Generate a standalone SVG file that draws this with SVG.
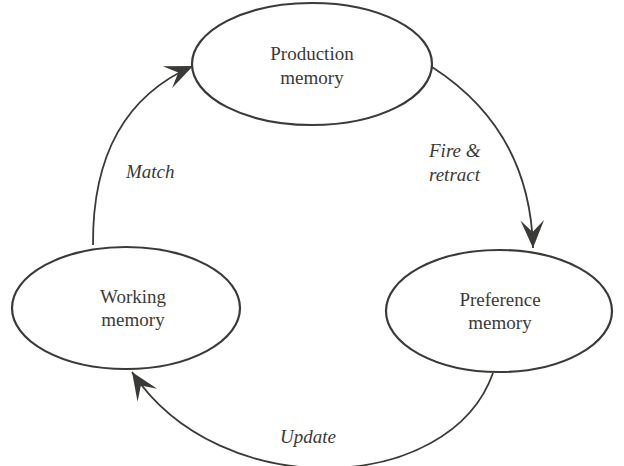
<svg xmlns="http://www.w3.org/2000/svg" width="624" height="466" viewBox="0 0 624 466" font-family="'Times New Roman', 'Liberation Serif', serif" font-size="19" style="font-family:'Times New Roman','Liberation Serif',serif;font-size:19px">
<defs>
<marker id="ah" markerUnits="userSpaceOnUse" markerWidth="30" markerHeight="30" viewBox="-26 -12 28 24" refX="0" refY="0" orient="auto">
<path d="M0,0 L-26,-11 L-15,0 L-26,11 Z" fill="#3a3a36"/>
</marker>
</defs>
<g id="connectors" fill="none" stroke="#3a3a36" stroke-width="1.8">
<path d="M93,245 Q92,110 193,66" marker-end="url(#ah)"/>
<path d="M432,67 Q530,130 533,248" marker-end="url(#ah)"/>
<path d="M493,373 C450,495 220,505 132,372" marker-end="url(#ah)"/>
</g>
<g id="edge-labels">
<text x="126" y="178" fill="#3a3a36" style="font-family:'Times New Roman','Liberation Serif',serif;font-size:19px;font-style:italic">Match</text>
<text x="429" y="157" fill="#3a3a36" style="font-family:'Times New Roman','Liberation Serif',serif;font-size:19px;font-style:italic">Fire &amp;</text>
<text x="429" y="181" fill="#3a3a36" style="font-family:'Times New Roman','Liberation Serif',serif;font-size:19px;font-style:italic">retract</text>
<text x="280" y="443" fill="#3a3a36" style="font-family:'Times New Roman','Liberation Serif',serif;font-size:19px;font-style:italic">Update</text>
</g>
<g id="production">
<ellipse cx="312" cy="64" rx="120" ry="61" fill="#fff" stroke="#3a3a36" stroke-width="2.2"/>
<text x="312" y="60" text-anchor="middle" fill="#3a3a36" style="font-family:'Times New Roman','Liberation Serif',serif;font-size:19px">Production</text>
<text x="312" y="84" text-anchor="middle" fill="#3a3a36" style="font-family:'Times New Roman','Liberation Serif',serif;font-size:19px">memory</text>
</g>
<g id="working">
<ellipse cx="126" cy="308" rx="114" ry="61" fill="#fff" stroke="#3a3a36" stroke-width="2.2"/>
<text x="133" y="303" text-anchor="middle" fill="#3a3a36" style="font-family:'Times New Roman','Liberation Serif',serif;font-size:19px">Working</text>
<text x="133" y="326" text-anchor="middle" fill="#3a3a36" style="font-family:'Times New Roman','Liberation Serif',serif;font-size:19px">memory</text>
</g>
<g id="preference">
<ellipse cx="499" cy="311" rx="113" ry="61" fill="#fff" stroke="#3a3a36" stroke-width="2.2"/>
<text x="500" y="306" text-anchor="middle" fill="#3a3a36" style="font-family:'Times New Roman','Liberation Serif',serif;font-size:19px">Preference</text>
<text x="500" y="329" text-anchor="middle" fill="#3a3a36" style="font-family:'Times New Roman','Liberation Serif',serif;font-size:19px">memory</text>
</g>
</svg>
